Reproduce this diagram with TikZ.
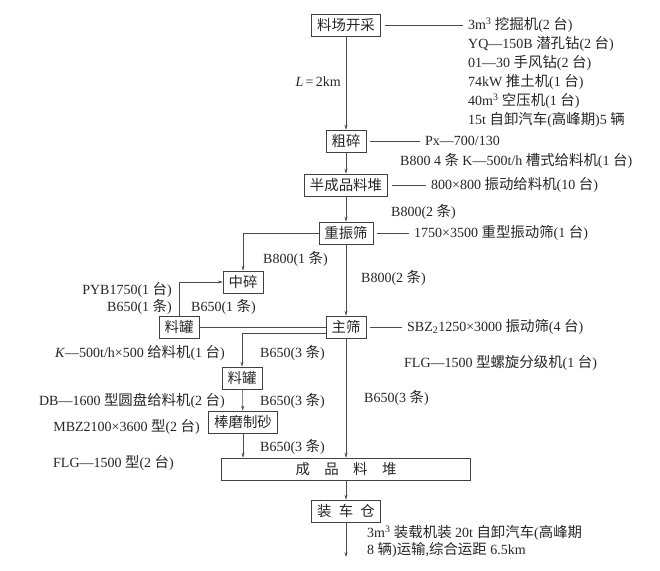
\documentclass[tikz,border=0pt]{standalone}
\usepackage{fontspec}
\setmainfont{Liberation Serif}
\newfontfamily\cjk[Scale=1.03]{Noto Sans CJK SC}
\newcommand\hz[1]{{\cjk #1}}
\usetikzlibrary{arrows.meta}
\begin{document}
\begin{tikzpicture}[x=1pt,y=-1pt,>={Stealth[length=5pt,width=3pt]},
    every node/.style={font=\fontsize{14}{17}\selectfont,text=black!85},
    box/.style={draw=black!75,line width=.6pt,inner xsep=5.5pt,inner ysep=2pt,minimum height=22pt},
    eq/.style={anchor=west,inner sep=1pt},
    eqr/.style={anchor=east,inner sep=1pt},
    flow/.style={->,draw=black!70,line width=.5pt},
    lead/.style={draw=black!70,line width=.5pt,shorten <=4pt,shorten >=4pt}]
    \useasboundingbox (0,0) rectangle (660,570);
    % process boxes
    \node[box] (kc) at (346,25) {\hz{料场开采}};
    \node[box] (cs) at (346,141) {\hz{粗碎}};
    \node[box] (bcp) at (346,185) {\hz{半成品料堆}};
    \node[box] (zzs) at (346,233) {\hz{重振筛}};
    \node[box] (zs) at (243,282) {\hz{中碎}};
    \node[box] (lg1) at (179,327) {\hz{料罐}};
    \node[box] (zhs) at (346,327) {\hz{主筛}};
    \node[box] (lg2) at (242,378) {\hz{料罐}};
    \node[box] (bm) at (243,422) {\hz{棒磨制砂}};
    \node[box,minimum width=249pt] (cp) at (346,469) {\hz{成\quad 品\quad 料\quad 堆}};
    \node[box] (zcc) at (346,511) {\hz{装\enspace 车\enspace 仓}};
    \coordinate (out) at (346,557);
    % equipment
    \node[eq] (e1) at (467,25) {3m\textsuperscript{3} \hz{挖掘机}(2 \hz{台})};
    \node[eq] (e2) at (467,44) {YQ—150B \hz{潜孔钻}(2 \hz{台})};
    \node[eq] (e3) at (467,63) {01—30 \hz{手风钻}(2 \hz{台})};
    \node[eq] (e4) at (467,82) {74kW \hz{推土机}(1 \hz{台})};
    \node[eq] (e5) at (467,101) {40m\textsuperscript{3} \hz{空压机}(1 \hz{台})};
    \node[eq] (e6) at (467,120) {15t \hz{自卸汽车}(\hz{高峰期})5 \hz{辆}};
    \node[eqr] (len) at (342,82) {\textit{L}\,=\,2km};
    \node[eq] (px) at (424,141) {Px—700/130};
    \node[eq] (gl) at (399,161) {B800 4 \hz{条} K—500t/h \hz{槽式给料机}(1 \hz{台})};
    \node[eq] (zd) at (430,185) {800×800 \hz{振动给料机}(10 \hz{台})};
    \node[eq] (b1) at (390,212) {B800(2 \hz{条})};
    \node[eq] (zx) at (413,233) {1750×3500 \hz{重型振动筛}(1 \hz{台})};
    \node[eq] (b2) at (262,259) {B800(1 \hz{条})};
    \node[eq] (b3) at (360,278) {B800(2 \hz{条})};
    \node[eqr] (pyb) at (173,290) {PYB1750(1 \hz{台})};
    \node[eqr] (b4) at (173,307) {B650(1 \hz{条})};
    \node[eq] (b5) at (190,307) {B650(1 \hz{条})};
    \node[eq] (sbz) at (406,327) {SBZ\textsubscript{2}1250×3000 \hz{振动筛}(4 \hz{台})};
    \node[eq] (flg1) at (403,363) {FLG—1500 \hz{型螺旋分级机}(1 \hz{台})};
    \node[eqr] (kg) at (226,353) {\textit{K}—500t/h×500 \hz{给料机}(1 \hz{台})};
    \node[eq] (b6) at (259,353) {B650(3 \hz{条})};
    \node[eqr] (db) at (226,401) {DB—1600 \hz{型圆盘给料机}(2 \hz{台})};
    \node[eq] (b7) at (259,401) {B650(3 \hz{条})};
    \node[eq] (b8) at (363,398) {B650(3 \hz{条})};
    \node[eqr] (mbz) at (201,427) {MBZ2100×3600 \hz{型}(2 \hz{台})};
    \node[eq] (b9) at (259,447) {B650(3 \hz{条})};
    \node[eq] (flg2) at (52,463) {FLG—1500 \hz{型}(2 \hz{台})};
    \node[eq] (zz1) at (366,533) {3m\textsuperscript{3} \hz{装载机装} 20t \hz{自卸汽车}(\hz{高峰期}};
    \node[eq] (zz2) at (366,550) {8 \hz{辆})\hz{运输},\hz{综合运距} 6.5km};
    % flow
    \draw[flow] (kc) -- (cs);
    \draw[flow] (cs) -- (bcp);
    \draw[flow] (bcp) -- (zzs);
    \draw[flow] (zzs.west) -| (zs.north);
    \draw[flow] (lg1.north) |- (zs.west);
    \draw[flow] (zzs) -- (zhs);
    \draw[draw=black!70,line width=.5pt] (lg1.east) -- (zhs.west);
    \draw[flow] ([yshift=-6pt]zhs.west) -| (lg2.north);
    \draw[flow] (lg2) -- (bm);
    \draw[flow] (bm) -- (bm |- cp.north);
    \draw[flow] (zhs) -- (cp);
    \draw[flow] (cp) -- (zcc);
    \draw[flow] (zcc) -- (out);
    % leaders
    \draw[lead] (kc.east) -- (e1.west);
    \draw[lead] (cs.east) -- (px.west);
    \draw[lead] (bcp.east) -- (zd.west);
    \draw[lead] (zzs.east) -- (zx.west);
    \draw[lead] (zhs.east) -- (sbz.west);
\end{tikzpicture}
\end{document}
